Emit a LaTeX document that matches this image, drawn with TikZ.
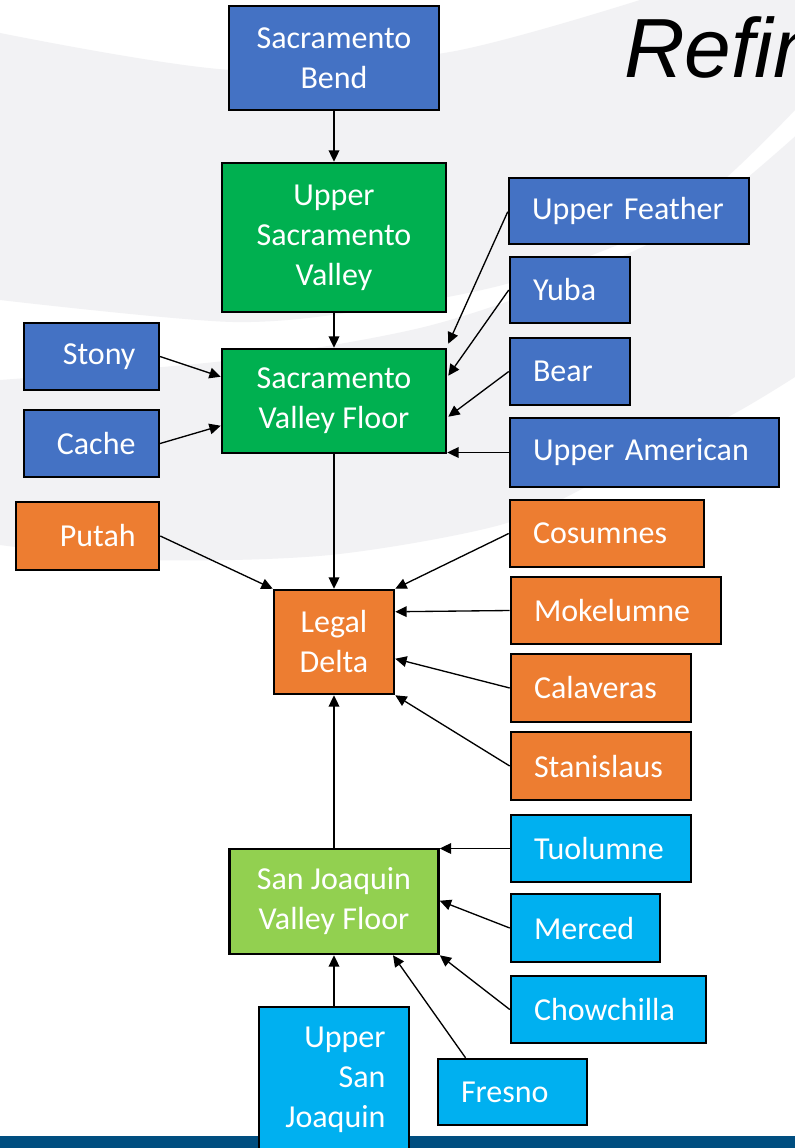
\documentclass[tikz,border=0pt]{standalone}
\usepackage{fontspec}
\setmainfont{Carlito}
\newfontfamily\reffont{Liberation Sans}
\usetikzlibrary{arrows.meta,calc}
\definecolor{bgrey}{RGB}{242,242,244}
\definecolor{cblue}{RGB}{68,114,196}
\definecolor{cgreen}{RGB}{0,176,80}
\definecolor{corange}{RGB}{237,125,49}
\definecolor{clblue}{RGB}{0,176,240}
\definecolor{clgreen}{RGB}{146,208,80}
\definecolor{cbar}{RGB}{0,78,128}
\begin{document}
\begin{tikzpicture}[x=0.75pt,y=-0.75pt,
  box/.style={draw=black, line width=1.9pt, text=white, inner ysep=0pt,
    font=\fontsize{24}{30}\selectfont},
  cbox/.style={box, align=center, inner xsep=0pt},
  lbox/.style={box, align=left, inner xsep=17.25pt},
  rbox/.style={box, align=right, inner xsep=17.5pt},
  arr/.style={-{Triangle[length=8.5pt,width=8pt]}, line width=1pt, draw=black}]
\useasboundingbox (0,0) rectangle (795,1148);
\clip (0,0) rectangle (795,1148);
\fill[white] (0,0) rectangle (795,1148);
% background swooshes
\fill[bgrey] plot[smooth] coordinates {(0,33) (233,70) (450,52) (640,0)} -- (800,0) -- (800,110)
  -- plot[smooth] coordinates {(795,110) (680,215) (520,280) (380,308) (233,322) (0,300)} -- cycle;
\fill[bgrey] plot[smooth] coordinates {(0,380) (233,360) (420,328) (560,282) (690,222) (800,132)}
  -- (800,377) -- plot[smooth] coordinates {(795,377) (728,417) (600,480) (500,525) (330,555) (150,560) (0,545)} -- cycle;
\fill[cbar] (0,1136) rectangle (795,1150);
\node[anchor=base west, inner sep=0pt, font=\reffont\itshape\fontsize{63}{70}\selectfont] (title) at (624,78) {Refin};
% nodes
\node[cbox, fill=cblue, minimum width=157.5pt, minimum height=78pt] (sb) at (334,58) {Sacramento\\Bend};
\node[cbox, fill=cgreen, minimum width=168pt, minimum height=111.75pt] (usv) at (334,237.5) {Upper\\Sacramento\\Valley};
\node[cbox, fill=cgreen, minimum width=168pt, minimum height=78pt] (svf) at (334,401) {Sacramento\\Valley Floor};
\node[rbox, fill=cblue, text width=66pt, minimum height=50.25pt] (stony) at (91.5,356.5) {Stony};
\node[rbox, fill=cblue, text width=66pt, minimum height=50.25pt] (cache) at (91.5,443.5) {Cache};
\node[lbox, fill=cblue, text width=145.5pt, minimum height=49.5pt] (uf) at (629,211) {Upper Feather};
\node[lbox, fill=cblue, text width=55.5pt, minimum height=49.5pt] (yuba) at (570,290) {Yuba};
\node[lbox, fill=cblue, text width=55.5pt, minimum height=50.25pt] (bear) at (570,371.5) {Bear};
\node[lbox, fill=cblue, text width=167.25pt, minimum height=51.75pt] (ua) at (644.5,452.5) {Upper American};
\node[rbox, fill=corange, text width=72.25pt, minimum height=51pt] (putah) at (87.5,536) {Putah};
\node[cbox, fill=corange, minimum width=90pt, minimum height=78pt] (ld) at (334,642) {Legal\\Delta};
\node[lbox, fill=corange, text width=111pt, minimum height=50.25pt] (cos) at (607,533.5) {Cosumnes};
\node[lbox, fill=corange, text width=123pt, minimum height=50.25pt] (mok) at (616,610.5) {Mokelumne};
\node[lbox, fill=corange, text width=100.5pt, minimum height=51pt] (cal) at (601,688) {Calaveras};
\node[lbox, fill=corange, text width=100.5pt, minimum height=51pt] (stan) at (601,766) {Stanislaus};
\node[lbox, fill=clblue, text width=100.5pt, minimum height=50.25pt] (tuo) at (601,848.5) {Tuolumne};
\node[lbox, fill=clblue, text width=77.25pt, minimum height=51pt] (mer) at (585.5,928) {Merced};
\node[lbox, fill=clblue, text width=111.75pt, minimum height=50.25pt] (chow) at (608.5,1009.5) {Chowchilla};
\node[lbox, fill=clblue, text width=77.25pt, minimum height=49.5pt] (fres) at (512.5,1092) {Fresno};
\node[cbox, fill=clgreen, minimum width=156.75pt, minimum height=78.75pt] (sjvf) at (334,901.5) {San Joaquin\\Valley Floor};
\node[rbox, fill=clblue, text width=77.25pt, minimum height=109.5pt] (usj) at (334,1080) {Upper\\San\\Joaquin};
% connectors
\draw[arr] (sb) -- (usv);
\draw[arr] (usv) -- (svf);
\draw[arr] (stony.east) -- ($(svf.north west)+(0,29)$);
\draw[arr] (cache.east) -- ($(svf.north west)+(0,78)$);
\draw[arr] ($(uf.north west)+(0,35)$) -- ($(svf.north east)+(1,-4)$);
\draw[arr] (yuba.west) -- ($(svf.north east)+(1,28)$);
\draw[arr] (bear.west) -- ($(svf.north east)+(1,69)$);
\draw[arr] (ua.west) -- (ua.west -| svf.east);
\draw[arr] (svf) -- (ld);
\draw[arr] (putah.east) -- (ld.north west);
\draw[arr] (cos.west) -- (ld.north east);
\draw[arr] (mok.west) -- ($(ld.north east)+(0,23)$);
\draw[arr] (cal.west) -- ($(ld.north east)+(0,70)$);
\draw[arr] (stan.west) -- (ld.south east);
\draw[arr] (sjvf) -- (ld);
\draw[arr] (tuo.west) -- (tuo.west -| sjvf.east);
\draw[arr] (mer.west) -- ($(sjvf.north east)+(0,53)$);
\draw[arr] (chow.west) -- (sjvf.south east);
\draw[arr] ($(fres.north)+(-47,0)$) -- ($(sjvf.south)+(59,0)$);
\draw[arr] (usj) -- (sjvf);
\end{tikzpicture}
\end{document}
